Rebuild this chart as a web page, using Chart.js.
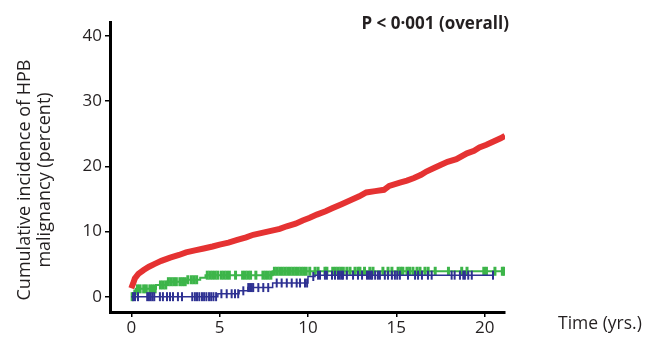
<!DOCTYPE html>
<html>
<head>
<meta charset="utf-8">
<script src="https://cdn.jsdelivr.net/npm/chart.js@4.4.1/dist/chart.umd.min.js"></script>
<style>
  body { margin: 0; background: #fff; }
  #wrap { width: 662px; height: 340px; }
</style>
</head>
<body>
<div id="wrap"><canvas id="chart"></canvas></div>
<script>
// tick labels
const xTicks = [0, 5, 10, 15, 20];
const yTicks = [0, 10, 20, 30, 40];

// red group
const redX = [0, 0.1, 0.2, 0.4, 0.7, 1.0, 1.3, 1.7, 2.2, 2.7, 3.1, 3.6, 4.1, 4.6, 5.0, 5.5, 6.0, 6.5, 6.9, 7.4,
  7.9, 8.4, 8.8, 9.3, 9.7, 10.1, 10.5, 11.0, 11.4, 11.9, 12.4, 12.9, 13.3, 13.8, 14.3, 14.6, 15.2, 15.6, 16.0,
  16.4, 16.7, 17.1, 17.5, 17.9, 18.4, 19.0, 19.4, 19.7, 20.1, 20.5, 20.9, 21.15];
const redY = [1.3, 2.0, 2.8, 3.5, 4.1, 4.6, 5.0, 5.5, 6.0, 6.4, 6.8, 7.1, 7.4, 7.7, 8.0, 8.3, 8.7, 9.1, 9.5, 9.8,
  10.1, 10.4, 10.8, 11.2, 11.7, 12.1, 12.6, 13.1, 13.6, 14.2, 14.8, 15.4, 16.0, 16.2, 16.4, 17.0, 17.5, 17.8, 18.2,
  18.7, 19.2, 19.7, 20.2, 20.7, 21.1, 22.0, 22.4, 22.9, 23.3, 23.8, 24.3, 24.7];

// green group (step times / levels)
const greenX = [0, 0.1, 0.25, 1.4, 2.0, 3.1, 3.9, 4.2, 8.0, 21.15];
const greenY = [0, 0.4, 1.2, 1.8, 2.3, 2.6, 2.9, 3.3, 3.9, 3.9];
const greenCensor = [0.05, 0.2, 0.35, 0.5, 0.7, 0.85, 1.05, 1.2, 1.35, 1.65, 1.8, 1.95, 2.1, 2.25, 2.4, 2.55,
  2.75, 2.9, 3.05, 3.2, 3.4, 3.55, 3.7, 4.3, 4.45, 4.6, 4.75, 4.9, 5.1, 5.25, 5.4, 5.55, 5.9, 6.3, 6.45,
  6.6, 6.75, 7.05, 7.45, 7.6, 7.75, 7.9, 8.1, 8.25, 8.4, 8.55, 8.7, 8.85, 9.0, 9.15, 9.3, 9.45, 9.6, 9.75,
  9.9, 10.1, 10.4, 10.57, 10.96, 11.07, 11.4, 11.55, 11.7, 11.85, 12.0, 12.2, 12.38, 12.66, 12.83, 12.94,
  13.2, 13.5, 13.68, 14.24, 14.53, 14.75, 15.1, 15.25, 15.37, 15.6, 15.75, 15.94, 16.17, 16.34, 16.62, 16.8,
  17.2, 17.95, 18.7, 19.0, 19.95, 20.1, 20.58, 21.0, 21.1];

// navy group
const navyX = [0, 4.9, 6.1, 6.6, 8.0, 10.0, 10.4, 20.5];
const navyY = [0, 0.45, 0.9, 1.4, 2.1, 3.1, 3.3, 3.3];
const navyCensor = [0.1, 0.21, 0.38, 0.9, 1.0, 1.1, 1.2, 1.3, 1.62, 1.79, 2.02, 2.19, 2.36, 2.64, 2.87,
  3.45, 3.6, 3.72, 3.85, 4.0, 4.12, 4.25, 4.4, 4.52, 4.65, 4.8, 5.1, 5.4, 5.68, 5.87, 6.05, 6.34, 6.62,
  6.72, 6.82, 6.9, 7.19, 7.47, 7.75, 8.23, 8.51, 8.8, 9.08, 9.36, 9.55, 9.83, 9.95, 10.3, 10.57, 10.68,
  10.96, 11.07, 11.36, 11.53, 11.7, 11.8, 11.9, 11.98, 12.2, 12.55, 12.83, 13.06, 13.34, 13.45, 13.55,
  13.63, 13.8, 13.96, 14.07, 14.35, 14.53, 14.75, 14.92, 15.05, 15.2, 15.66, 16.06, 16.23, 16.45, 16.79,
  17.0, 18.13, 18.3, 18.6, 18.79, 18.88, 19.07, 19.27, 20.47];

const RED = '#e53232';
const GREEN = '#3db54a';
const NAVY = '#2e3192';
const INK = '#231f20';
const FONT = '"Open Sans", "Noto Sans", sans-serif';

function toPoints(xs, ys) {
  return xs.map((x, i) => ({ x: x, y: ys[i] }));
}

// y of a censor mark = level of the step curve at that time
function levelAt(xs, ys, t) {
  let v = ys[0];
  for (let i = 0; i < xs.length; i++) {
    if (xs[i] <= t) v = ys[i];
  }
  return v;
}

function censorPoints(times, xs, ys) {
  return times.map(t => ({ x: t, y: levelAt(xs, ys, t) }));
}

function censorSet(times, xs, ys, color, width) {
  return {
    type: 'scatter',
    data: censorPoints(times, xs, ys),
    showLine: false,
    pointStyle: 'line',
    rotation: 90,
    pointRadius: 4.5,
    pointBorderWidth: width,
    pointBorderColor: color,
    pointBackgroundColor: color,
    pointHoverRadius: 4.5
  };
}

// texts that sit outside the axes
const textPlugin = {
  id: 'texts',
  afterDraw(chart) {
    const ctx = chart.ctx;
    ctx.save();
    ctx.fillStyle = INK;
    ctx.textBaseline = 'alphabetic';
    ctx.font = 'bold 17px ' + FONT;
    ctx.textAlign = 'right';
    ctx.fillText('P < 0·001 (overall)', 509, 29);
    ctx.font = '17.5px ' + FONT;
    ctx.textAlign = 'left';
    ctx.fillText('Time (yrs.)', 558, 329);
    ctx.font = '18px ' + FONT;
    ctx.translate(0, 180);
    ctx.rotate(-Math.PI / 2);
    ctx.textAlign = 'center';
    ctx.textBaseline = 'middle';
    ctx.fillText('Cumulative incidence of HPB', 0, 25);
    ctx.fillText('malignancy (percent)', 0, 45);
    ctx.restore();
  }
};

const ctx = document.getElementById('chart').getContext('2d');
new Chart(ctx, {
  type: 'line',
  data: {
    datasets: [
      {
        data: toPoints(navyX, navyY),
        borderColor: NAVY,
        borderWidth: 1.5,
        stepped: true,
        pointRadius: 0
      },
      censorSet(navyCensor, navyX, navyY, NAVY, 2),
      {
        data: toPoints(greenX, greenY),
        borderColor: GREEN,
        borderWidth: 2,
        stepped: true,
        pointRadius: 0
      },
      censorSet(greenCensor, greenX, greenY, GREEN, 3),
      {
        data: toPoints(redX, redY),
        borderColor: RED,
        borderWidth: 6,
        tension: 0,
        pointRadius: 0
      }
    ]
  },
  options: {
    responsive: true,
    maintainAspectRatio: false,
    animation: false,
    layout: { padding: { left: 0, right: 157, top: 22, bottom: 0 } },
    plugins: {
      legend: { display: false },
      tooltip: { enabled: false }
    },
    scales: {
      x: {
        type: 'linear',
        min: -1.205,
        max: 21.15,
        afterBuildTicks: s => { s.ticks = xTicks.map(v => ({ value: v })); },
        afterFit: s => { s.height = 28; },
        grid: { display: true, drawOnChartArea: false, drawTicks: true, tickLength: 5, color: '#000', lineWidth: 1.5 },
        border: { display: true, color: '#000', width: 3 },
        ticks: { color: INK, font: { family: FONT, size: 17 }, padding: 1, maxRotation: 0 }
      },
      y: {
        type: 'linear',
        min: -2.35,
        max: 42.15,
        afterBuildTicks: s => { s.ticks = yTicks.map(v => ({ value: v })); },
        afterFit: s => { s.width = 110; },
        grid: { display: true, drawOnChartArea: false, drawTicks: true, tickLength: 5, color: '#000', lineWidth: 1.5 },
        border: { display: true, color: '#000', width: 3 },
        ticks: { color: INK, font: { family: FONT, size: 17 }, padding: 3 }
      }
    }
  },
  plugins: [textPlugin]
});
</script>
</body>
</html>
